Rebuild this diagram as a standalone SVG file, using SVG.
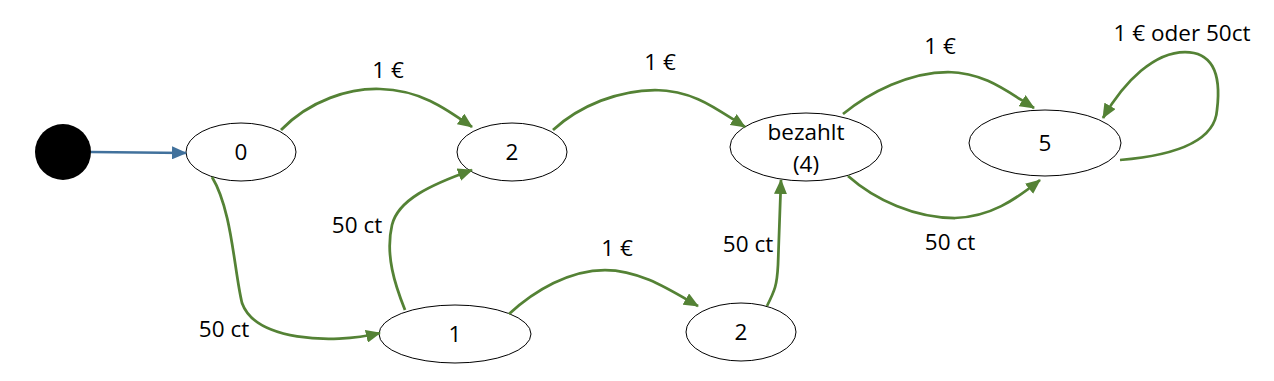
<svg xmlns="http://www.w3.org/2000/svg" width="1274" height="381" viewBox="0 0 1274 381">
<style>
.node{fill:#fff;stroke:#000;stroke-width:1}
.t{font-family:"Open Sans","Liberation Sans",sans-serif;font-size:22.5px;fill:#000;text-anchor:middle}
.e{fill:none;stroke:#548235;stroke-width:2.75;marker-end:url(#ag)}
.b{fill:none;stroke:#41719C;stroke-width:2.75;marker-end:url(#ab)}
</style>
<defs>
<marker id="ag" markerUnits="userSpaceOnUse" markerWidth="15" markerHeight="13" refX="14" refY="6.5" orient="auto"><path d="M0,0 L15,6.5 L0,13 Z" fill="#548235"/></marker>
<marker id="ab" markerUnits="userSpaceOnUse" markerWidth="15" markerHeight="13" refX="14" refY="6.5" orient="auto"><path d="M0,0 L15,6.5 L0,13 Z" fill="#41719C"/></marker>
</defs>
<rect width="1274" height="381" fill="#fff"/>
<g id="start"><circle cx="63" cy="152" r="28" fill="#000"/></g>
<g id="n0"><ellipse class="node" cx="241" cy="152" rx="55" ry="29"/><text class="t" x="241" y="160">0</text></g>
<g id="n2a"><ellipse class="node" cx="512" cy="152" rx="55" ry="29"/><text class="t" x="512" y="160">2</text></g>
<g id="n4"><ellipse class="node" cx="806" cy="147" rx="76" ry="34"/><text class="t" x="806" y="140">bezahlt</text><text class="t" x="806" y="172">(4)</text></g>
<g id="n5"><ellipse class="node" cx="1045" cy="143" rx="76" ry="33"/><text class="t" x="1045" y="151">5</text></g>
<g id="n1"><ellipse class="node" cx="455" cy="334" rx="76" ry="29"/><text class="t" x="455" y="342">1</text></g>
<g id="n2b"><ellipse class="node" cx="741" cy="332" rx="55" ry="29"/><text class="t" x="741" y="340">2</text></g>
<g id="connectors">
<path class="b" d="M91,152 L186,153"/>
<path class="e" d="M281,130 C310,100 350,88 380,89 C420,90 445,108 472,127"/>
<path class="e" d="M553,130 C580,105 620,90 655,90 C695,91 715,108 745,127"/>
<path class="e" d="M843,114 C870,92 910,72 948,72 C985,73 1005,90 1034,108"/>
<path class="e" d="M848,176 C875,200 915,218 955,218 C990,217 1015,200 1040,180"/>
<path class="e" d="M1120,160 C1180,155 1215,140 1217,110 C1222,70 1210,52 1185,52 C1155,52 1125,80 1103,118"/>
<path class="e" d="M212,177 C232,210 234,270 242,303 C255,340 330,345 380,333"/>
<path class="e" d="M405,310 C395,285 385,255 392,225 C398,200 430,185 472,170"/>
<path class="e" d="M509,314 C535,290 570,270 605,270 C640,270 670,290 698,306"/>
<path class="e" d="M767,306 C775,290 777,285 778,265 L781,180"/>
</g>
<g id="labels">
<text class="t" x="388" y="78">1 €</text>
<text class="t" x="660" y="70">1 €</text>
<text class="t" x="940" y="54">1 €</text>
<text class="t" x="950" y="250">50 ct</text>
<text class="t" x="1182" y="41">1 € oder 50ct</text>
<text class="t" x="224" y="337">50 ct</text>
<text class="t" x="357" y="233">50 ct</text>
<text class="t" x="617" y="256">1 €</text>
<text class="t" x="748" y="252">50 ct</text>
</g>
</svg>
